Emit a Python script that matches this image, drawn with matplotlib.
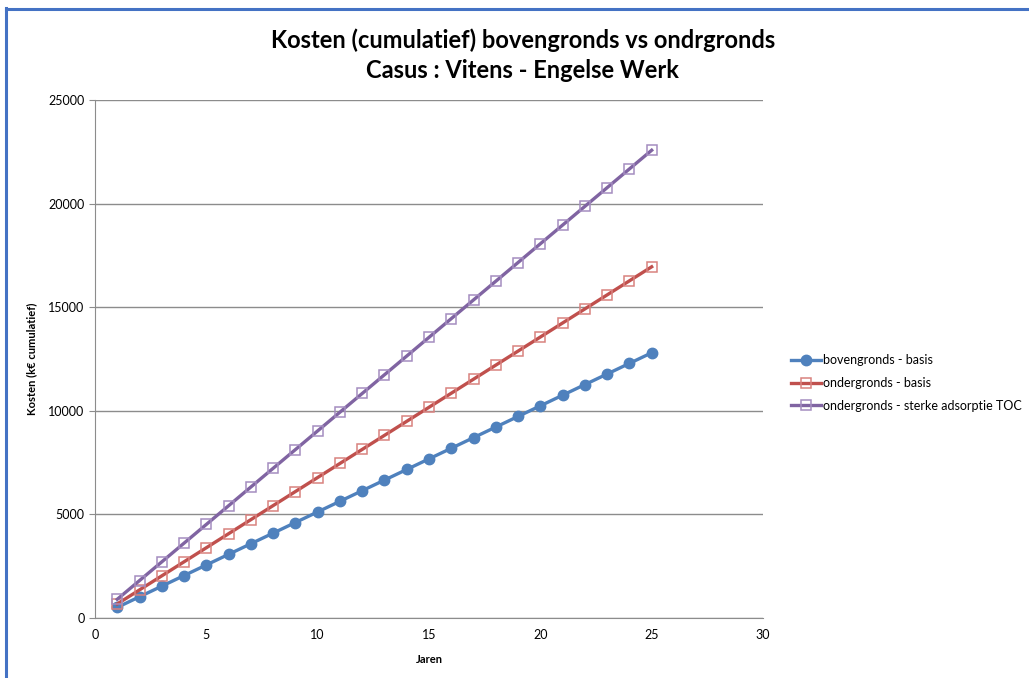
import matplotlib
matplotlib.use('Agg')
import matplotlib.pyplot as plt
from matplotlib.lines import Line2D

plt.rcParams['font.family'] = ['Lato', 'DejaVu Sans']

jaren = list(range(1, 26))
bovengronds = [512, 1024, 1536, 2048, 2560, 3072, 3584, 4096, 4608, 5120,
               5632, 6144, 6656, 7168, 7680, 8192, 8704, 9216, 9728, 10240,
               10752, 11264, 11776, 12288, 12800]
ondergronds = [678, 1356, 2034, 2712, 3390, 4068, 4746, 5424, 6102, 6780,
               7458, 8136, 8814, 9492, 10170, 10848, 11526, 12204, 12882, 13560,
               14238, 14916, 15594, 16272, 16950]
ondergronds_toc = [903, 1806, 2709, 3612, 4515, 5418, 6321, 7224, 8127, 9030,
                   9933, 10836, 11739, 12642, 13545, 14448, 15351, 16254, 17157, 18060,
                   18963, 19866, 20769, 21672, 22575]
labels = ['bovengronds - basis', 'ondergronds - basis', 'ondergronds - sterke adsorptie TOC']

fig = plt.figure(figsize=(10.29, 6.78), dpi=100)
ax = fig.add_axes([0.0923, 0.0885, 0.6492, 0.764])

ax.plot(jaren, bovengronds, color='#4F81BD', lw=2.4, marker='o', ms=7.5,
        mfc='#4F81BD', mec='#4F81BD', label=labels[0], zorder=3)
ax.plot(jaren, ondergronds, color='#C0504D', lw=2.4, marker='s', ms=7.5,
        mfc='none', mec='#D9827F', mew=1.1, label=labels[1], zorder=3)
ax.plot(jaren, ondergronds_toc, color='#8064A2', lw=2.4, marker='s', ms=7.5,
        mfc='none', mec='#A48DC0', mew=1.1, label=labels[2], zorder=3)

ax.set_xlim(0, 30)
ax.set_ylim(0, 25000)
ax.set_xticks(range(0, 31, 5))
ax.set_yticks(range(0, 25001, 5000))
ax.yaxis.grid(True, color='#8C8C8C', lw=1)
ax.set_axisbelow(True)
ax.tick_params(axis='both', labelsize=9, color='#8C8C8C', length=4, direction='out')
ax.tick_params(axis='x', length=0, pad=8)
for s in ('top', 'right'):
    ax.spines[s].set_visible(False)
for s in ('left', 'bottom'):
    ax.spines[s].set_color('#8C8C8C')

ax.set_xlabel('Jaren', fontsize=8, fontweight='bold', labelpad=9)
ax.set_ylabel('Kosten (k€ cumulatief)', fontsize=8, fontweight='bold', labelpad=8)

fig.text(0.508, 1 - 40 / 678, 'Kosten (cumulatief) bovengronds vs ondrgronds',
         ha='center', va='center', fontsize=17, fontweight='bold')
fig.text(0.508, 1 - 70 / 678, 'Casus : Vitens - Engelse Werk',
         ha='center', va='center', fontsize=17, fontweight='bold')

ax.legend(loc='center left', bbox_to_anchor=(1.035, 0.4537), frameon=False,
          fontsize=9, handlelength=2.4, handletextpad=0.1, labelspacing=0.85,
          borderaxespad=0)

# chart border on the left and top edge
fig.add_artist(Line2D([6 / 1029, 6 / 1029], [0, 1 - 8 / 678], color='#4472C4', lw=2.2,
                      transform=fig.transFigure))
fig.add_artist(Line2D([6 / 1029, 1], [1 - 9 / 678, 1 - 9 / 678], color='#4472C4', lw=2.2,
                      transform=fig.transFigure))

fig.savefig('out.png', dpi=100)
